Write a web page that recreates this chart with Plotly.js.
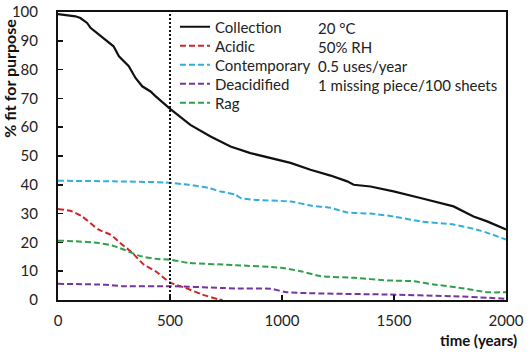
<!DOCTYPE html>
<html>
<head>
<meta charset="utf-8">
<script src="https://cdn.plot.ly/plotly-3.0.1.min.js"></script>
<style>html,body{margin:0;padding:0;background:#fff;}#chart{width:532px;height:354px;}</style>
</head>
<body>
<div id="chart"></div>
<script>
// ---- data ----
const seriesNames = ["Collection", "Acidic", "Contemporary", "Deacidified", "Rag"];

const collectionYears = [0,78,100,130,145,182,227,248,272,316,346,376,413,435,502,591,681,770,859,949,1038,1127,1172,1217,1291,1320,1395,1498,1618,1708,1766,1855,1916,2000];
const collection      = [99.3,98.5,97.9,96.2,94.5,92.1,89.3,88.1,84.6,81.2,77.1,74.2,72.4,70.8,66.3,60.8,56.8,53.3,51.0,49.3,47.6,45.2,44.2,43.2,41.2,40.0,39.4,37.7,35.4,33.7,32.5,29.0,27.3,24.5];

const acidicYears = [0,62,108,182,234,287,331,383,435,502,569,644,718,735];
const acidic      = [31.6,30.8,29.0,24.4,22.7,19.2,16.4,12.3,10.0,6.0,4.2,1.9,0.2,0];

const contemporaryYears = [0,250,480,584,672,725,792,815,874,1038,1127,1217,1291,1395,1498,1618,1766,1886,2000];
const contemporary      = [41.4,41.2,40.8,40.0,38.9,37.7,36.6,35.4,34.8,34.2,32.8,32.0,30.4,30.0,29.0,27.3,26.2,24.1,21.0];

const deacidifiedYears = [0,212,287,502,725,792,949,1023,1470,1766,1916,2000];
const deacidified      = [5.6,5.3,4.8,4.8,4.2,4.0,3.9,2.7,1.9,1.3,0.8,0.4];

const ragYears = [0,78,182,242,287,361,435,502,584,792,993,1083,1172,1320,1470,1587,1677,1797,1916,2000];
const rag      = [20.6,20.4,19.8,18.9,17.7,15.4,14.3,14.0,12.9,12.1,11.2,10.0,8.3,7.7,6.8,6.5,5.4,4.2,2.7,2.7];

const markerYear = [500, 500];
const markerRange = [0, 100];

const conditions = ["20 \u00B0C", "50% RH", "0.5 uses/year", "1 missing piece/100 sheets"];

const xTicks = [0, 500, 1000, 1500, 2000];
const yTicks = [0, 10, 20, 30, 40, 50, 60, 70, 80, 90, 100];

// ---- chart ----
const FONT = "Lato, 'Open Sans', sans-serif";
const dashed = "6px,3px";
const PLOT_TOP = 11, PLOT_H = 289, PLOT_L = 58, PLOT_W = 448;
const py = p => 1 - (p - PLOT_TOP) / PLOT_H;
const px = p => (p - PLOT_L) / PLOT_W;

function series(i, x, y, color, dash, shape, width) {
  return {x: x, y: y, name: seriesNames[i], type: "scatter", mode: "lines",
          legend: i === 0 ? "legend" : "legend" + (i + 1),
          line: {color: color, width: width || 2, dash: dash, shape: shape || "spline", smoothing: 0.6}};
}
const traces = [
  series(0, collectionYears, collection, "#111111", "solid", "linear", 2.2),
  series(1, acidicYears, acidic, "#D0262A", dashed),
  series(2, contemporaryYears, contemporary, "#33AEDC", dashed),
  series(3, deacidifiedYears, deacidified, "#7435A0", dashed),
  series(4, ragYears, rag, "#2E9F4A", dashed),
  {x: markerYear, y: markerRange, type: "scatter", mode: "lines", showlegend: false,
   line: {color: "#111111", width: 2, dash: "2px,2px"}, hoverinfo: "skip"}
];

const annotations = conditions.map((t, i) => ({
  text: t, xref: "paper", yref: "paper", x: px(316), y: py(27 + 19 * i),
  xanchor: "left", yanchor: "middle", showarrow: false, font: {family: FONT, size: 15, color: "#222"}
}));
annotations.push({text: "<b>time (years)</b>", xref: "paper", yref: "paper",
  x: px(519), y: py(340), xanchor: "right", yanchor: "middle",
  showarrow: false, font: {family: FONT, size: 15, color: "#111"}});
annotations.push({text: "<b>% fit for purpose</b>", xref: "paper", yref: "paper",
  x: px(10), y: py(78), xanchor: "center", yanchor: "middle", textangle: -90,
  showarrow: false, font: {family: FONT, size: 16, color: "#111"}});

const layout = {
  width: 532, height: 354,
  margin: {l: 58, r: 26, t: 11, b: 54},
  paper_bgcolor: "#fff", plot_bgcolor: "#fff",
  font: {family: FONT, size: 15, color: "#222"},
  showlegend: true,
  xaxis: {range: [0, 2000], tickvals: xTicks, ticks: "inside", ticklen: 5, tickwidth: 1.5,
          tickcolor: "#111", showline: true, linecolor: "#111", linewidth: 2, mirror: true,
          showgrid: false, zeroline: false, ticklabelstandoff: 6, fixedrange: true,
          tickfont: {family: FONT, size: 15, color: "#222"}},
  yaxis: {range: [0, 100], tickvals: yTicks, ticks: "inside", ticklen: 5, tickwidth: 1.5,
          tickcolor: "#111", showline: true, linecolor: "#111", linewidth: 2, mirror: true,
          showgrid: false, zeroline: false, ticklabelstandoff: 15, fixedrange: true,
          tickfont: {family: FONT, size: 15, color: "#222"}},
  annotations: annotations
};
// one legend box per row so the row spacing matches the reference
seriesNames.forEach((n, i) => {
  const key = i === 0 ? "legend" : "legend" + (i + 1);
  layout[key] = {x: px(175), y: py(27 + 19 * i), xanchor: "left", yanchor: "middle",
                 bgcolor: "rgba(0,0,0,0)", font: {family: FONT, size: 15, color: "#222"},
                 itemwidth: 30};
});

Plotly.newPlot("chart", traces, layout, {displayModeBar: false, staticPlot: true});
</script>
</body>
</html>
